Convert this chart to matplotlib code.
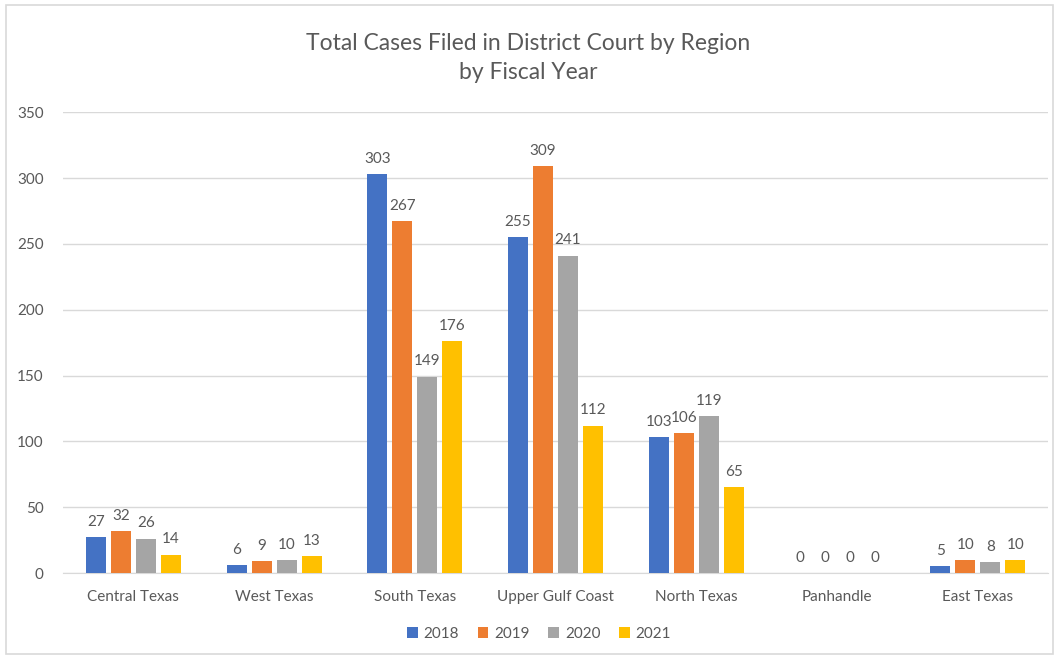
import numpy as np
import matplotlib.pyplot as plt
from matplotlib.patches import Rectangle

# Data
regions = ['Central Texas', 'West Texas', 'South Texas', 'Upper Gulf Coast',
           'North Texas', 'Panhandle', 'East Texas']
years = ['2018', '2019', '2020', '2021']
cases_2018 = [27, 6, 303, 255, 103, 0, 5]
cases_2019 = [32, 9, 267, 309, 106, 0, 10]
cases_2020 = [26, 10, 149, 241, 119, 0, 8]
cases_2021 = [14, 13, 176, 112, 65, 0, 10]
colors = ['#4472C4', '#ED7D31', '#A5A5A5', '#FFC000']

plt.rcParams['font.family'] = ['Lato', 'DejaVu Sans']
text_color = '#595959'

fig = plt.figure(figsize=(10.57, 6.56), dpi=100)
ax = fig.add_axes([0.0596, 0.1265, 0.932, 0.7025])

x = np.arange(len(regions))
step = 0.178
width = 0.142
series = [cases_2018, cases_2019, cases_2020, cases_2021]
for i, (vals, yr, c) in enumerate(zip(series, years, colors)):
    pos = x + (i - 1.5) * step
    bars = ax.bar(pos, vals, width, color=c, label=yr, zorder=3)
    ax.bar_label(bars, padding=6, fontsize=11, color=text_color)

ax.set_xlim(-0.5, len(regions) - 0.5)
ax.set_ylim(0, 350)
ax.set_yticks(range(0, 351, 50))
ax.set_xticks(x)
ax.set_xticklabels(regions)
ax.tick_params(axis='both', length=0, labelsize=11, labelcolor=text_color)
ax.tick_params(axis='y', pad=14)
ax.tick_params(axis='x', pad=12)
ax.grid(axis='y', color='#D9D9D9', linewidth=1, zorder=0)
for s in ['top', 'right', 'left']:
    ax.spines[s].set_visible(False)
ax.spines['bottom'].set_color('#D9D9D9')

fig.text(0.5, 0.912, 'Total Cases Filed in District Court by Region\nby Fiscal Year',
         ha='center', va='center', fontsize=16.5, color=text_color, linespacing=1.45)

ax.legend(loc='center', bbox_to_anchor=(0.51, 0.034), bbox_transform=fig.transFigure,
          ncol=4, frameon=False, fontsize=11, labelcolor=text_color,
          handlelength=0.7, handleheight=0.7, handletextpad=0.4, columnspacing=1.2)

# Chart border
fig.patches.append(Rectangle((0.006, 0.003), 0.99, 0.99, transform=fig.transFigure,
                             fill=False, edgecolor='#D9D9D9', linewidth=1.2))

fig.savefig('out.png', dpi=100)
